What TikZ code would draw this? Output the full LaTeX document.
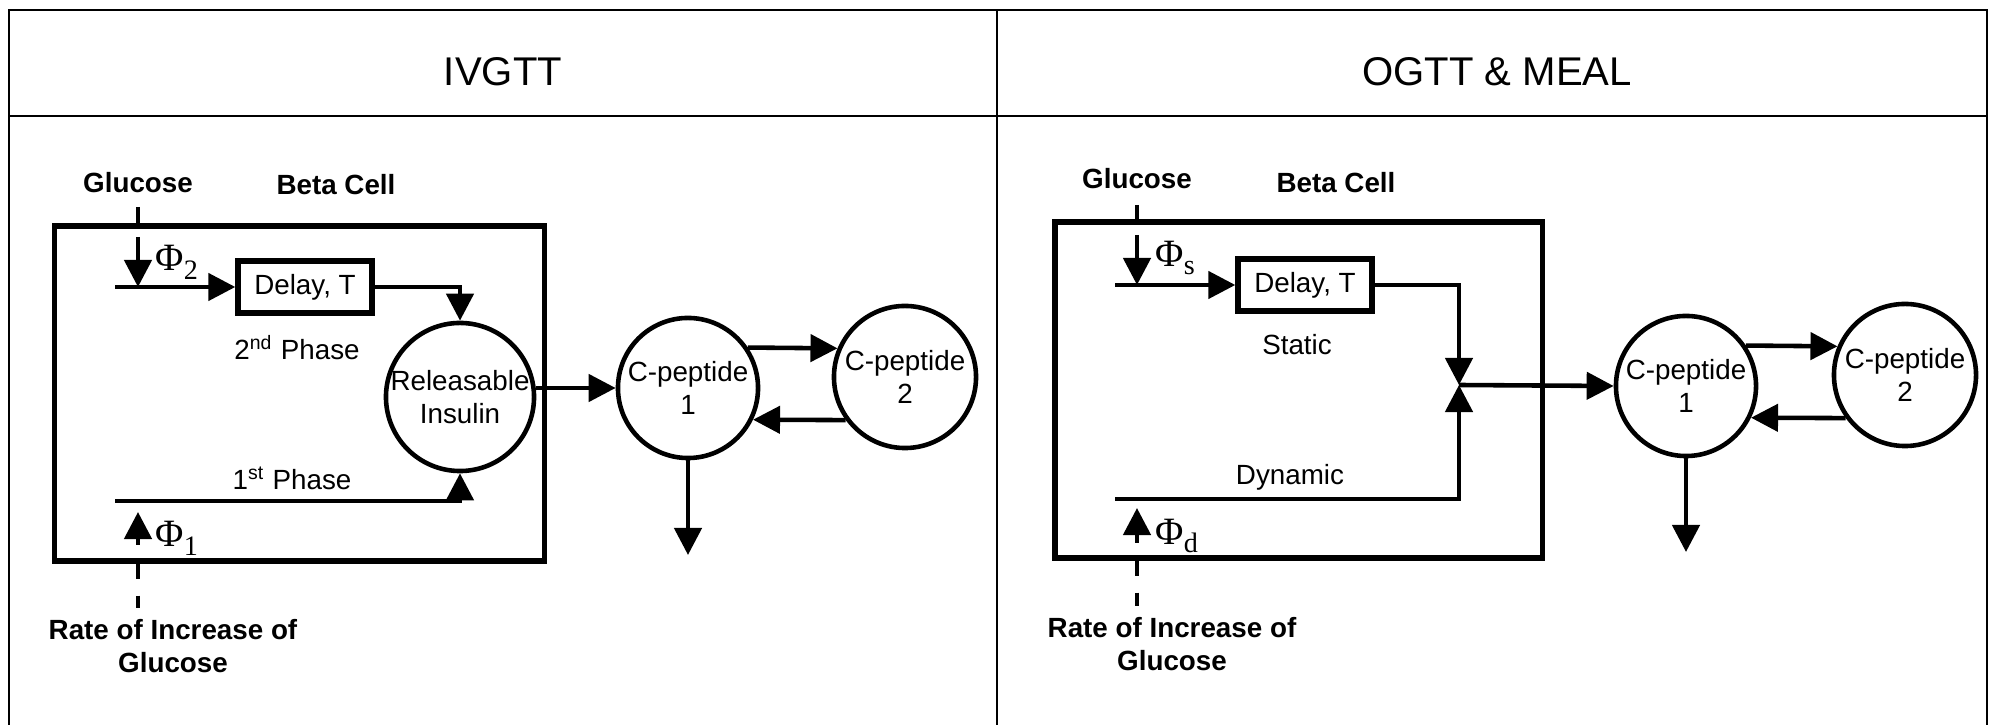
\documentclass[tikz,border=0pt]{standalone}
\usepackage{fontspec}
\setmainfont{Liberation Sans}
\newfontfamily\phifont{Liberation Serif}
\usetikzlibrary{arrows.meta,positioning}

\newcommand{\fluxlabel}[1]{{\phifont\fontsize{11}{11}\selectfont Φ\raisebox{-0.5ex}{\fontsize{8}{8}\selectfont #1}}}

\tikzset{
  panelline/.style={line width=0.8pt},
  cellbox/.style={draw, line width=1.5pt, inner sep=0pt},
  delaybox/.style={draw, line width=1.5pt, minimum width=1.34cm, minimum height=0.52cm, inner sep=0pt, font=\fontsize{7.9}{9}\selectfont},
  pool/.style={draw, circle, line width=1.3pt, inner sep=0pt},
  poolname/.style={align=center, font=\fontsize{7.9}{9.4}\selectfont},
  flow/.style={line width=1.3pt, -{Triangle[length=2.7mm,width=2.7mm]}},
  plain/.style={line width=1.3pt},
  hdr/.style={font=\fontsize{11.4}{13}\selectfont},
  tag/.style={font=\bfseries\fontsize{7.9}{9.4}\selectfont, align=center},
  note/.style={font=\fontsize{7.9}{9.4}\selectfont},
}

\begin{document}
\begin{tikzpicture}[x=0.01cm, y=-0.01cm]
    \useasboundingbox (0,0) rectangle (1993,725);
    % Frame and headers
    \draw[panelline] (9,725) -- (9,10) -- (1987,10) -- (1987,725);
    \draw[panelline] (9,116) -- (1987,116);
    \draw[panelline] (997,10) -- (997,725);
    \node[hdr] (ivgtt) at (503,72) {IVGTT};
    \node[hdr] (ogtt) at (1497,72) {OGTT \& MEAL};

    % IVGTT panel
    \node[cellbox, minimum width=4.89cm, minimum height=3.35cm] (cellA) at (299.5,393.5) {};
    \node[tag] (glucA) at (138,183) {Glucose};
    \node[tag] (betaA) at (336,185) {Beta Cell};
    \node[delaybox] (delA) at (305,287) {Delay, T};
    \node[pool, minimum size=1.48cm, label={[poolname]center:Releasable\\Insulin}] (relA) at (460,397) {};
    \node[pool, minimum size=1.40cm, label={[poolname]center:C-peptide\\1}] (cpA1) at (688,388) {};
    \node[pool, minimum size=1.42cm, label={[poolname]center:C-peptide\\2}] (cpA2) at (905,377) {};
    \node[note] (ndphA) at (297,348) {2\textsuperscript{nd} Phase};
    \node[note] (stphA) at (292,478) {1\textsuperscript{st} Phase};
    \node[anchor=west, inner sep=0pt] (fA2) at (155,262) {\fluxlabel{2}};
    \node[anchor=west, inner sep=0pt] (fA1) at (155,538) {\fluxlabel{1}};
    \node[tag] (rateA) at (173,646) {Rate of Increase of\\Glucose};
    \coordinate (gA) at (138,207);
    \coordinate (phA2) at (138,237);
    \coordinate (stA) at (115,287);
    \coordinate (ndA) at (115,501);
    \coordinate (phA1) at (138,545);
    \coordinate (rtA) at (138,608);
    \coordinate (outA) at (688,555);
    \draw[plain] (gA) -- (gA |- cellA.north);
    \draw[flow] (phA2) -- (phA2 |- stA);
    \draw[flow] (stA) -- (delA.west);
    \draw[flow] (delA.east) -| (relA.north);
    \draw[flow] (ndA) -| (relA.south);
    \draw[flow, shorten >=1.1mm] (phA1) -- (phA1 |- ndA);
    \draw[plain, dash pattern=on 1.5mm off 1.7mm] (phA1 |- cellA.south) -- (rtA);
    \draw[flow] (relA.east |- cpA1.west) -- (cpA1.west);
    \draw[flow] (cpA1.34) -- (cpA2.157);
    \draw[flow] (cpA2.216) -- (cpA1.-26);
    \draw[flow] (cpA1.south) -- (outA);

    % OGTT & MEAL panel
    \node[cellbox, minimum width=4.87cm, minimum height=3.36cm] (cellB) at (1298.5,390) {};
    \node[tag] (glucB) at (1137,179) {Glucose};
    \node[tag] (betaB) at (1336,183) {Beta Cell};
    \node[delaybox] (delB) at (1305,285) {Delay, T};
    \node[pool, minimum size=1.40cm, label={[poolname]center:C-peptide\\1}] (cpB1) at (1686,386) {};
    \node[pool, minimum size=1.42cm, label={[poolname]center:C-peptide\\2}] (cpB2) at (1905,375) {};
    \node[note] (statB) at (1297,345) {Static};
    \node[note] (dynB) at (1290,477) {Dynamic};
    \node[anchor=west, inner sep=0pt] (fBs) at (1155,258) {\fluxlabel{s}};
    \node[anchor=west, inner sep=0pt] (fBd) at (1155,536) {\fluxlabel{d}};
    \node[tag] (rateB) at (1172,644) {Rate of Increase of\\Glucose};
    \coordinate (gB) at (1137,205);
    \coordinate (phBs) at (1137,235);
    \coordinate (stB) at (1115,285);
    \coordinate (ndB) at (1115,499);
    \coordinate (phBd) at (1137,543);
    \coordinate (rtB) at (1137,606);
    \coordinate (jB) at (1459,385);
    \coordinate (outB) at (1686,552);
    \draw[plain] (gB) -- (gB |- cellB.north);
    \draw[flow] (phBs) -- (phBs |- stB);
    \draw[flow] (stB) -- (delB.west);
    \draw[flow] (delB.east) -| (jB);
    \draw[flow] (ndB) -| (jB);
    \draw[flow, shorten >=0.9mm] (phBd) -- (phBd |- ndB);
    \draw[plain, dash pattern=on 1.5mm off 1.7mm] (phBd |- cellB.south) -- (rtB);
    \draw[flow] (jB) -- (cpB1.west);
    \draw[flow] (cpB1.34) -- (cpB2.157);
    \draw[flow] (cpB2.216) -- (cpB1.-26);
    \draw[flow] (cpB1.south) -- (outB);
\end{tikzpicture}
\end{document}
